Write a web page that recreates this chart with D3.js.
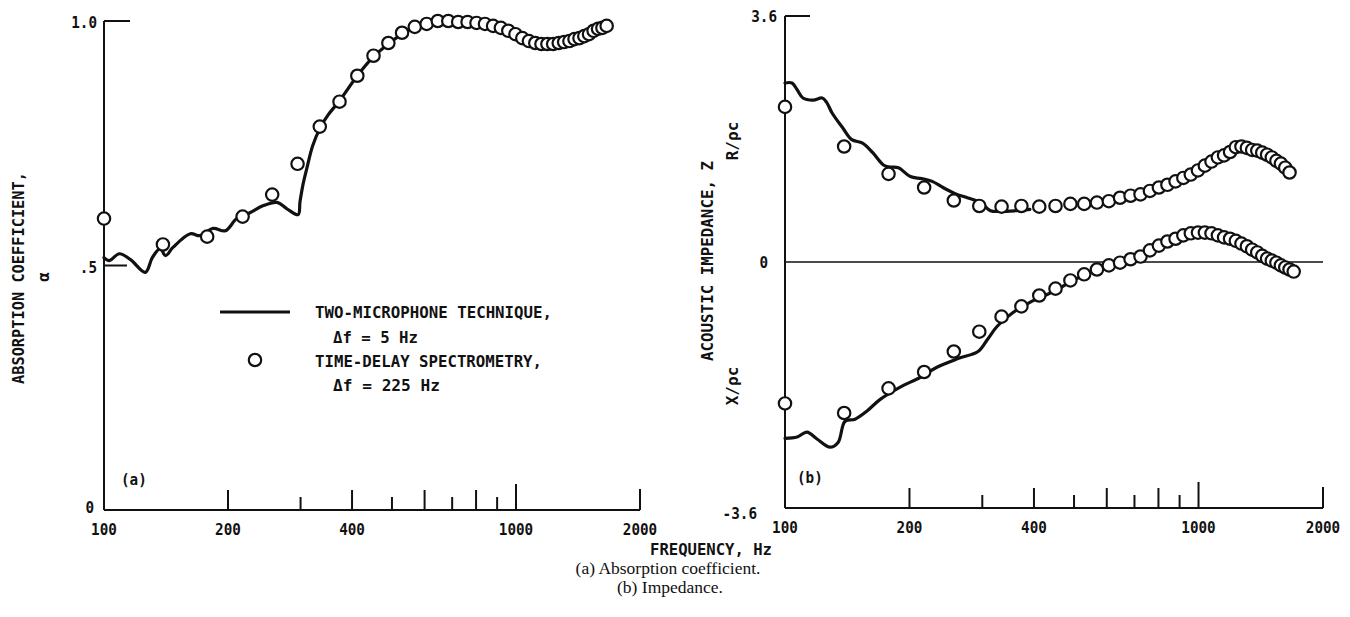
<!DOCTYPE html>
<html><head><meta charset="utf-8">
<script src="https://cdn.jsdelivr.net/npm/d3@7/dist/d3.min.js"></script>
<style>
body{margin:0;background:#fff}
text{font-family:"DejaVu Sans Mono",monospace;fill:#111;font-weight:bold}
.cap{font-family:"Liberation Serif","Times New Roman",serif;font-weight:normal}
</style>
</head><body><svg id="c" width="1350" height="617"></svg>
<script>
// ---------- data ----------
const tdsFreq = [100,139,178,217,256,295,334,373,412,451,490,529,568,607,646,685,724,763,802,841,880,919,958,997,1036,1075,1114,1153,1192,1231,1270,1309,1348,1387,1426,1465,1504,1543,1582,1621,1660,1699];
const tdsAlpha = [0.596,0.543,0.559,0.600,0.645,0.708,0.784,0.835,0.888,0.929,0.955,0.976,0.988,0.994,1.0,1.0,0.998,0.998,0.996,0.994,0.990,0.986,0.980,0.973,0.965,0.959,0.955,0.953,0.953,0.953,0.955,0.957,0.959,0.963,0.965,0.969,0.973,0.980,0.984,0.986,0.990];
const tdsR = [2.27,1.69,1.29,1.09,0.90,0.82,0.81,0.82,0.81,0.82,0.85,0.85,0.87,0.89,0.94,0.97,0.99,1.04,1.09,1.13,1.18,1.23,1.28,1.34,1.41,1.47,1.53,1.56,1.61,1.68,1.69,1.67,1.64,1.63,1.60,1.57,1.53,1.48,1.44,1.38,1.31];
const tdsX = [-2.07,-2.21,-1.85,-1.61,-1.31,-1.02,-0.80,-0.65,-0.49,-0.39,-0.27,-0.18,-0.11,-0.05,-0.01,0.04,0.08,0.17,0.24,0.30,0.34,0.39,0.42,0.43,0.43,0.42,0.39,0.36,0.34,0.31,0.27,0.23,0.18,0.14,0.09,0.05,0.02,-0.01,-0.05,-0.08,-0.11,-0.14];

const micAlphaFreq = [100,103,109,116,126,131,137,141,147,162,171,184,197,210,226,243,263,278,296,299,304,311,321,336,350,373,412,451,490,529,568,607,646,685,724,763,802];
const micAlpha = [0.516,0.510,0.524,0.512,0.486,0.516,0.535,0.520,0.537,0.565,0.561,0.576,0.571,0.596,0.608,0.622,0.629,0.616,0.604,0.630,0.665,0.700,0.745,0.784,0.808,0.837,0.888,0.927,0.953,0.973,0.986,0.993,0.998,1.0,0.998,0.998,0.996];
const micRFreq = [100,104,107,110.5,117,123,126,130,138,145,154,163,173,179,188,201,214,227,241,258,276,297,314,331,360,391];
const micR = [2.62,2.62,2.52,2.40,2.37,2.40,2.34,2.18,1.96,1.79,1.74,1.60,1.42,1.39,1.38,1.25,1.22,1.18,1.09,1.00,0.94,0.87,0.75,0.74,0.75,0.77];
const micXFreq = [100,107,113,119.5,128.5,134.4,139.7,147.7,157.9,169.9,189.9,212,233,263,293,309,326,356,391,451,490,529,568,607,646];
const micX = [-2.58,-2.56,-2.49,-2.59,-2.71,-2.64,-2.33,-2.30,-2.18,-2.01,-1.83,-1.69,-1.54,-1.41,-1.31,-1.13,-0.94,-0.74,-0.59,-0.42,-0.29,-0.19,-0.11,-0.05,0.0];

const xTickVals = [200,300,400,500,600,700,800,900,1000,2000];
const xLabelVals = [100,200,400,1000,2000];
const alphaTickLabels = ["0",".5","1.0"];
const zTickLabels = ["-3.6","0","3.6"];
const legendText = ["TWO-MICROPHONE TECHNIQUE,","\u0394f = 5 Hz","TIME-DELAY SPECTROMETRY,","\u0394f = 225 Hz"];

// ---------- drawing ----------
const svg = d3.select('#c');
svg.append('rect').attr('width',1350).attr('height',617).attr('fill','#fff');

const xA = d3.scaleLog().domain([100,2000]).range([104,640]);
const yA = d3.scaleLinear().domain([0,1]).range([510,21]);
const xB = d3.scaleLog().domain([100,2000]).range([785,1323]);
const yB = d3.scaleLinear().domain([-3.6,3.6]).range([508,16]);

const ink = '#111';
const CW = 8.6; // lettering character width
function tickH(v){ if(v===1000) return 26; if(v===2000) return 21; return ([200,400,600,800].includes(v)) ? 20 : 13; }
function letter(sel, size){
  sel.attr('font-size',size).attr('lengthAdjust','spacingAndGlyphs')
     .attr('textLength',function(){ return this.textContent.length*CW; });
}

function xAxis(x, y0){
  const g = svg.append('g');
  g.append('line').attr('x1',x(100)).attr('x2',x(2000)).attr('y1',y0).attr('y2',y0).attr('stroke',ink).attr('stroke-width',2);
  g.selectAll('.tk').data(xTickVals).join('line')
    .attr('x1',d=>x(d)).attr('x2',d=>x(d)).attr('y1',y0).attr('y2',d=>y0-tickH(d))
    .attr('stroke',ink).attr('stroke-width',2);
  g.selectAll('.lb').data(xLabelVals).join('text')
    .attr('x',d=>x(d)).attr('y',y0+20).attr('text-anchor','middle').attr('dominant-baseline','central')
    .text(d=>d).call(letter,15);
}
xAxis(xA, yA(0));
xAxis(xB, yB(-3.6));

// left y axis
svg.append('line').attr('x1',xA(100)).attr('x2',xA(100)).attr('y1',yA(1)).attr('y2',yA(0)).attr('stroke',ink).attr('stroke-width',2);
svg.append('line').attr('x1',xA(100)).attr('x2',xA(100)+26).attr('y1',yA(1)).attr('y2',yA(1)).attr('stroke',ink).attr('stroke-width',2);
svg.append('line').attr('x1',xA(100)).attr('x2',xA(100)+23).attr('y1',yA(0.5)).attr('y2',yA(0.5)).attr('stroke',ink).attr('stroke-width',2);
svg.selectAll('.ya').data([0,0.5,1]).join('text')
  .attr('x',d=>d===0?94:97).attr('y',d=>yA(d)+(d===0?-2:2)).attr('text-anchor','end').attr('dominant-baseline','central')
  .text((d,i)=>alphaTickLabels[i]).call(letter,15);

// right y axis
svg.append('line').attr('x1',xB(100)).attr('x2',xB(100)).attr('y1',yB(3.6)).attr('y2',yB(-3.6)).attr('stroke',ink).attr('stroke-width',2);
svg.append('line').attr('x1',xB(100)).attr('x2',xB(100)+25).attr('y1',yB(3.6)).attr('y2',yB(3.6)).attr('stroke',ink).attr('stroke-width',2);
svg.append('line').attr('x1',xB(100)).attr('x2',xB(2000)).attr('y1',yB(0)).attr('y2',yB(0)).attr('stroke',ink).attr('stroke-width',1.5);
svg.selectAll('.yb').data([-3.6,0,3.6]).join('text')
  .attr('x',d=> d===-3.6?757:(d===0?768:777)).attr('y',d=>yB(d)+(d===-3.6?6:1)).attr('text-anchor','end').attr('dominant-baseline','central')
  .text((d,i)=>zTickLabels[i]).call(letter,15);

// lines
const lineGen = (x,y)=> d3.line().x(d=>x(d[0])).y(d=>y(d[1])).curve(d3.curveCatmullRom.alpha(0.5));
function drawLine(fs, vs, x, y){
  svg.append('path').datum(d3.zip(fs,vs)).attr('d',lineGen(x,y))
    .attr('fill','none').attr('stroke',ink).attr('stroke-width',3.2).attr('stroke-linejoin','round').attr('stroke-linecap','round');
}
drawLine(micAlphaFreq, micAlpha, xA, yA);
drawLine(micRFreq, micR, xB, yB);
drawLine(micXFreq, micX, xB, yB);

function drawCircles(fs, vs, x, y){
  svg.append('g').selectAll('circle').data(d3.zip(fs.slice(0,vs.length), vs)).join('circle')
    .attr('cx',d=>x(d[0])).attr('cy',d=>y(d[1])).attr('r',6.2)
    .attr('fill','#fff').attr('stroke',ink).attr('stroke-width',2.2);
}
drawCircles(tdsFreq, tdsAlpha, xA, yA);
drawCircles(tdsFreq, tdsR, xB, yB);
drawCircles(tdsFreq, tdsX, xB, yB);

// legend
svg.append('line').attr('x1',220).attr('x2',290).attr('y1',312).attr('y2',312).attr('stroke',ink).attr('stroke-width',3.2);
svg.append('circle').attr('cx',255).attr('cy',360).attr('r',6.2).attr('fill','#fff').attr('stroke',ink).attr('stroke-width',2.2);
const legPos = [[315,312,237],[333,337,85],[315,361,227],[333,385,107]];
svg.selectAll('.lg').data(legendText).join('text')
  .attr('x',(d,i)=>legPos[i][0]).attr('y',(d,i)=>legPos[i][1]).attr('dominant-baseline','central')
  .attr('font-size',16).attr('textLength',(d,i)=>legPos[i][2]).attr('lengthAdjust','spacingAndGlyphs').text(d=>d);

// panel labels
svg.append('text').attr('x',121).attr('y',480).attr('dominant-baseline','central').text('(a)').call(letter,15.5);
svg.append('text').attr('x',797).attr('y',478).attr('dominant-baseline','central').text('(b)').call(letter,15.5);

// axis titles
svg.append('text').attr('transform','translate(18,278) rotate(-90)').attr('text-anchor','middle').attr('dominant-baseline','central')
  .attr('font-size',16).attr('textLength',212).attr('lengthAdjust','spacingAndGlyphs').text('ABSORPTION COEFFICIENT,');
svg.append('text').attr('transform','translate(43,277) rotate(-90)').attr('text-anchor','middle').attr('dominant-baseline','central')
  .attr('font-size',16).text('\u03b1');
svg.append('text').attr('transform','translate(707,261) rotate(-90)').attr('text-anchor','middle').attr('dominant-baseline','central')
  .attr('font-size',16).attr('textLength',200).attr('lengthAdjust','spacingAndGlyphs').text('ACOUSTIC IMPEDANCE, Z');
svg.append('text').attr('transform','translate(732,141) rotate(-90)').attr('text-anchor','middle').attr('dominant-baseline','central')
  .attr('font-size',16).text('R/\u03c1c');
svg.append('text').attr('transform','translate(732,386) rotate(-90)').attr('text-anchor','middle').attr('dominant-baseline','central')
  .attr('font-size',16).text('X/\u03c1c');

svg.append('text').attr('x',711).attr('y',550).attr('text-anchor','middle').attr('dominant-baseline','central')
  .attr('font-size',15.5).attr('textLength',122).attr('lengthAdjust','spacingAndGlyphs').text('FREQUENCY, Hz');
svg.append('text').attr('class','cap').attr('x',668).attr('y',568).attr('text-anchor','middle').attr('dominant-baseline','central').attr('font-size',17.5).text('(a)  Absorption coefficient.');
svg.append('text').attr('class','cap').attr('x',670).attr('y',587).attr('text-anchor','middle').attr('dominant-baseline','central').attr('font-size',17.5).text('(b)  Impedance.');
</script>
</body></html>
